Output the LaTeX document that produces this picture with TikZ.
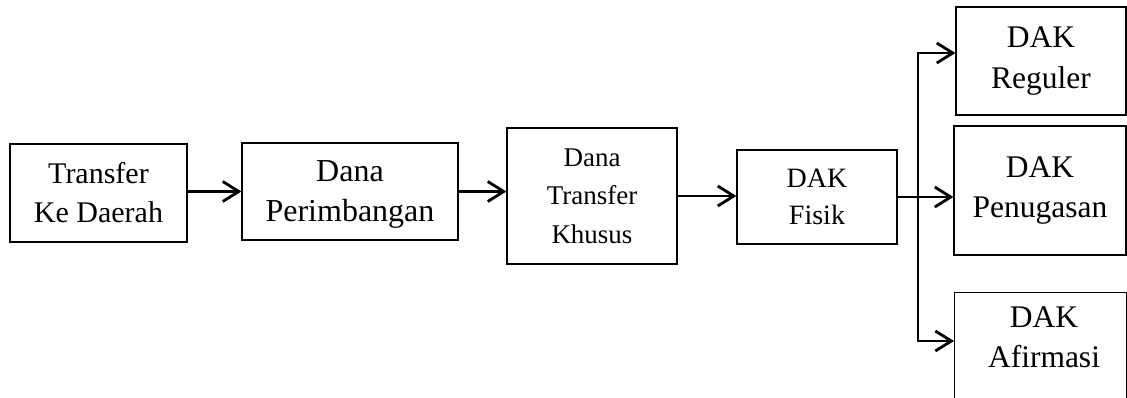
\documentclass[tikz,border=0pt]{standalone}
\usepackage{fontspec}
\setmainfont{Liberation Serif}
\usetikzlibrary{arrows.meta}
\begin{document}
\begin{tikzpicture}[x=1pt,y=-1pt,
  box/.style={draw,line width=1.2pt,inner sep=0pt,align=center},
  barb/.tip={Straight Barb[length=16pt,width=20pt]},
  conn/.style={line width=2.8pt,-barb},
  link/.style={line width=2.8pt}]
\useasboundingbox (0,0) rectangle (1127,398);
\node[box,minimum width=177pt,minimum height=98pt,font=\fontsize{30}{39}\selectfont] (b1) at (98.5,193) {Transfer\\Ke Daerah};
\node[box,minimum width=216pt,minimum height=97pt,text depth=0pt,font=\fontsize{32}{40}\selectfont] (b2) at (350,191.5) {Dana\\Perimbangan};
\node[box,minimum width=170pt,minimum height=136pt,font=\fontsize{27}{38.5}\selectfont] (b3) at (592,196) {Dana\\Transfer\\Khusus};
\node[box,minimum width=160pt,minimum height=94pt,font=\fontsize{28}{37}\selectfont] (b4) at (817,197) {DAK\\Fisik};
\node[box,minimum width=170pt,minimum height=108pt,font=\fontsize{31.5}{41}\selectfont] (b5) at (1041,61) {DAK\\Reguler};
\node[box,minimum width=172pt,minimum height=129pt,font=\fontsize{31.5}{40}\selectfont] (b6) at (1040,190.5) {DAK\\Penugasan};
\node[box,minimum width=172pt,minimum height=130pt,anchor=north west] (b7) at (954,292) {};
\node[inner sep=0pt,align=center,font=\fontsize{31.5}{40}\selectfont] (t7) at (1044,337.5) {DAK\\Afirmasi};
\coordinate (j5) at (918,53);
\coordinate (j7) at (918,341);
\draw[conn] (b1.east |- b2) -- (b2.west);
\draw[conn] (b2.east) -- (b2.east -| b3.west);
\draw[conn] (b3.east) -- (b3.east -| b4.west);
\draw[conn] (b4.east) -- (b4.east -| b6.west);
\draw[link,barb-barb] (j5 -| b5.west) -- (j5) -- (j7) -- (j7 -| b7.west);
\end{tikzpicture}
\end{document}
